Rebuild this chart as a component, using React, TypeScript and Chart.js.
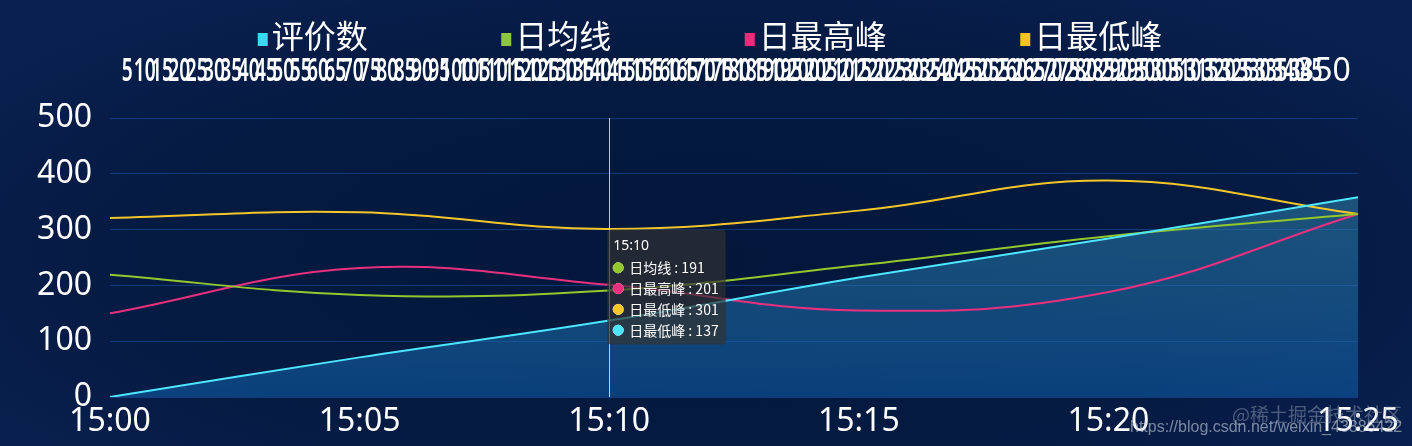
import React, { useEffect, useRef } from 'react';
import { Chart, registerables, Tooltip } from 'chart.js';

Chart.register(...registerables);

// ---------- data ----------
const timeLabels = ['15:00', '15:05', '15:10', '15:15', '15:20', '15:25'];
const legendLabels = ['评价数', '日均线', '日最高峰', '日最低峰'];
const legendColors = ['#38d9f2', '#8cc63f', '#ee2a7b', '#f7c41f'];
const seriesNames = ['日最低峰', '日均线', '日最高峰', '日最低峰'];
const lineColors = ['#4ee6ff', '#93c72e', '#e8307f', '#f4c62a'];
const countValues = [0, 71, 137, 214, 284, 358];
const avgValues = [219, 183, 191, 236, 288, 328];
const highValues = [150, 231, 201, 155, 188, 328];
const lowValues = [321, 331, 301, 334, 388, 328];
const topAxisLabels = [
  5, 10, 15, 20, 25, 30, 35, 40, 45, 50, 55, 60, 65, 70, 75, 80, 85, 90, 95, 100,
  105, 110, 115, 120, 125, 130, 135, 140, 145, 150, 155, 160, 165, 170, 175, 180,
  185, 190, 195, 200, 205, 210, 215, 220, 225, 230, 235, 240, 245, 250, 255, 260,
  265, 270, 275, 280, 285, 290, 295, 300, 305, 310, 315, 320, 325, 330, 335, 340,
  345, 350,
];
const topAxisMin = 0;
const topAxisMax = 360;
const yMax = 500;
const yStep = 100;
const activeIndex = 2;
const tooltipOrder = [1, 2, 3, 0];
const watermarkUrl = 'https://blog.csdn.net/weixin_43886422';
const watermarkSite = '@稀土掘金技术社区';

const LATIN = '"Noto Sans", "Noto Sans CJK SC", sans-serif';
const CJK = '"Noto Sans CJK SC", "Noto Sans", sans-serif';

(Tooltip.positioners as any).fixedRight = function (items: any[]) {
  if (!items.length) return false;
  const chart = (this as any).chart;
  return { x: items[0].element.x + 2, y: chart.scales.y.getPixelForValue(300) };
};

const legendPlugin = {
  id: 'customLegend',
  afterDraw(chart: any) {
    const ctx = chart.ctx;
    ctx.save();
    ctx.font = `32px ${CJK}`;
    ctx.textBaseline = 'middle';
    ctx.textAlign = 'left';
    const widths = legendLabels.map((t) => ctx.measureText(t).width);
    const box = 10;
    const gap = 4;
    const itemGap = 133.5;
    const total = widths.reduce((a, w) => a + box + gap + w, 0) + itemGap * (legendLabels.length - 1);
    let x = (chart.width - total) / 2 + 4;
    legendLabels.forEach((t, i) => {
      ctx.fillStyle = legendColors[i];
      ctx.fillRect(x, 33, box, 13);
      ctx.fillStyle = '#ffffff';
      ctx.fillText(t, x + box + gap, 36);
      x += box + gap + widths[i] + itemGap;
    });
    ctx.restore();
  },
};

const topLabelsPlugin = {
  id: 'topLabels',
  afterDraw(chart: any) {
    const s = chart.scales.x2;
    const ctx = chart.ctx;
    ctx.save();
    ctx.fillStyle = '#ffffff';
    ctx.textAlign = 'center';
    ctx.textBaseline = 'middle';
    const y = chart.chartArea.top - 46;
    topAxisLabels.forEach((v, i) => {
      const last = i === topAxisLabels.length - 1;
      ctx.font = `${last ? 400 : 600} 32px ${LATIN}`;
      const x = s.getPixelForValue(v);
      ctx.save();
      ctx.translate(x, y);
      ctx.scale(last ? 1 : 0.6, 1);
      ctx.fillText(String(v), 0, 0);
      ctx.restore();
    });
    ctx.restore();
  },
};

const pointerPlugin = {
  id: 'pointerLine',
  afterDatasetsDraw(chart: any) {
    const act = chart.tooltip ? chart.tooltip.getActiveElements() : [];
    if (!act || !act.length) return;
    const x = Math.round(act[0].element.x) + 0.5;
    const ctx = chart.ctx;
    ctx.save();
    ctx.strokeStyle = 'rgba(220,228,240,0.85)';
    ctx.lineWidth = 1;
    ctx.beginPath();
    ctx.moveTo(x, chart.chartArea.top);
    ctx.lineTo(x, chart.chartArea.bottom);
    ctx.stroke();
    ctx.restore();
  },
};

const watermarkPlugin = {
  id: 'watermark',
  afterDraw(chart: any) {
    const ctx = chart.ctx;
    ctx.save();
    ctx.textBaseline = 'middle';
    ctx.textAlign = 'left';
    ctx.font = `19px ${CJK}`;
    ctx.fillStyle = 'rgba(160,170,190,0.45)';
    ctx.fillText(watermarkSite, 1232, 415);
    ctx.font = '16px "Liberation Sans", Arial, sans-serif';
    ctx.fillStyle = 'rgba(200,208,222,0.6)';
    ctx.fillText(watermarkUrl, 1130, 428);
    ctx.restore();
  },
};

function areaGradient(context: any) {
  const chart = context.chart;
  const area = chart.chartArea;
  if (!area) return 'rgba(30,100,160,0.5)';
  const top = chart.scales.y.getPixelForValue(Math.max(...countValues));
  const g = chart.ctx.createLinearGradient(0, top, 0, area.bottom);
  g.addColorStop(0, 'rgba(52,138,178,0.5)');
  g.addColorStop(1, 'rgba(14,88,160,0.62)');
  return g;
}

export default function App() {
  const canvasRef = useRef<HTMLCanvasElement | null>(null);

  useEffect(() => {
    const canvas = canvasRef.current;
    if (!canvas) return;
    const seriesValues = [countValues, avgValues, highValues, lowValues];
    const chart = new Chart(canvas, {
      type: 'line',
      data: {
        labels: timeLabels,
        datasets: seriesValues.map((vals, i) => ({
          label: seriesNames[i],
          data: vals,
          xAxisID: 'x',
          yAxisID: 'y',
          borderColor: lineColors[i],
          backgroundColor: i === 0 ? areaGradient : lineColors[i],
          fill: i === 0 ? 'origin' : false,
          borderWidth: 2,
          tension: 0.4,
          pointRadius: 0,
          pointHoverRadius: 0,
        })),
      },
      options: {
        responsive: false,
        devicePixelRatio: 1,
        animation: false,
        events: [],
        layout: { padding: { top: 118, right: 54, bottom: 0, left: 0 } },
        scales: {
          x: {
            type: 'category',
            offset: false,
            grid: { display: false, drawTicks: false },
            border: { display: false },
            ticks: {
              color: '#ffffff',
              font: { family: LATIN, size: 32 },
              padding: 6,
              maxRotation: 0,
              minRotation: 0,
              autoSkip: false,
            },
            afterFit: (s: any) => {
              s.height = 49;
            },
          },
          x2: {
            type: 'linear',
            position: 'top',
            display: false,
            min: topAxisMin,
            max: topAxisMax,
          },
          y: {
            min: 0,
            max: yMax,
            ticks: {
              stepSize: yStep,
              color: '#ffffff',
              font: { family: LATIN, size: 32 },
              padding: 18,
            },
            grid: { color: 'rgba(35,95,190,0.45)', drawTicks: false, lineWidth: 1 },
            border: { display: false },
            afterFit: (s: any) => {
              s.width = 110;
            },
          },
        },
        plugins: {
          legend: { display: false },
          title: { display: false },
          filler: { drawTime: 'beforeDatasetsDraw' },
          tooltip: {
            enabled: true,
            position: 'fixedRight' as any,
            xAlign: 'left',
            yAlign: 'top',
            caretSize: 0,
            caretPadding: 0,
            cornerRadius: 4,
            backgroundColor: 'rgba(50,50,50,0.7)',
            titleColor: '#ffffff',
            bodyColor: '#ffffff',
            titleFont: { family: LATIN, size: 14, weight: 'normal' },
            bodyFont: { family: CJK, size: 14 },
            padding: { top: 8, bottom: 6, left: 6, right: 7 },
            titleMarginBottom: 5,
            bodySpacing: 4,
            boxWidth: 10,
            boxHeight: 10,
            boxPadding: 4,
            usePointStyle: true,
            displayColors: true,
            borderWidth: 0,
            callbacks: {
              label: (ctx: any) => `${ctx.dataset.label} : ${ctx.parsed.y}`,
              labelColor: (ctx: any) => ({
                borderColor: ctx.dataset.borderColor,
                backgroundColor: ctx.dataset.borderColor,
                borderWidth: 0,
              }),
              labelPointStyle: () => ({ pointStyle: 'circle', rotation: 0 }),
            },
          },
        },
      } as any,
      plugins: [pointerPlugin, legendPlugin, topLabelsPlugin, watermarkPlugin],
    });

    const active = tooltipOrder.map((d) => ({ datasetIndex: d, index: activeIndex }));
    const el: any = chart.getDatasetMeta(tooltipOrder[0]).data[activeIndex];
    chart.tooltip?.setActiveElements(active, { x: el.x, y: el.y });
    chart.update();

    return () => {
      chart.destroy();
    };
  }, []);

  return (
    <div
      style={{
        position: 'fixed',
        left: 0,
        top: 0,
        width: 1412,
        height: 446,
        background:
          'radial-gradient(ellipse 65% 75% at 50% 58%, #02173a 0%, #041a40 55%, #0a2050 100%)',
      }}
    >
      <canvas ref={canvasRef} width={1412} height={446} style={{ display: 'block' }} />
    </div>
  );
}
